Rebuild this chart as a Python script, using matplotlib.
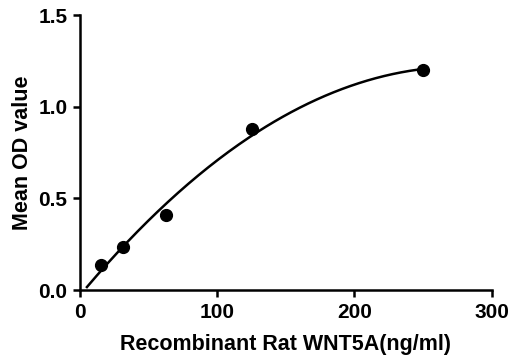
import numpy as np
import matplotlib
matplotlib.use("Agg")
import matplotlib.pyplot as plt

conc = [15.6, 31.25, 62.5, 125, 250]
od = [0.136, 0.236, 0.41, 0.88, 1.20]
xticks = [0, 100, 200, 300]
yticks = [0.0, 0.5, 1.0, 1.5]

plt.rcParams['font.family'] = ['Liberation Sans', 'DejaVu Sans']
plt.rcParams['font.weight'] = 'bold'

fig = plt.figure(figsize=(5.1, 3.59), dpi=100)
ax = fig.add_axes([0.157, 0.192, 0.807, 0.766])

coef = np.polyfit(conc, od, 2)
xs = np.linspace(5, 250, 200)
ax.plot(xs, np.polyval(coef, xs), color='black', lw=1.8, zorder=2)
ax.plot(conc, od, 'o', color='black', ms=8.5, zorder=3)

ax.set_xlim(0, 300)
ax.set_ylim(0, 1.5)
ax.set_xticks(xticks)
ax.set_yticks(yticks)
ax.set_yticklabels([f"{v:.1f}" for v in yticks])
for s in ['top', 'right']:
    ax.spines[s].set_visible(False)
for s in ['left', 'bottom']:
    ax.spines[s].set_linewidth(1.8)
ax.tick_params(direction='out', length=5, width=1.8, labelsize=15, pad=4)
ax.set_xlabel('Recombinant Rat WNT5A(ng/ml)', fontsize=15.5, fontweight='bold', labelpad=9)
ax.set_ylabel('Mean OD value', fontsize=15.5, fontweight='bold', labelpad=4)
fig.savefig('out.png', dpi=100)
